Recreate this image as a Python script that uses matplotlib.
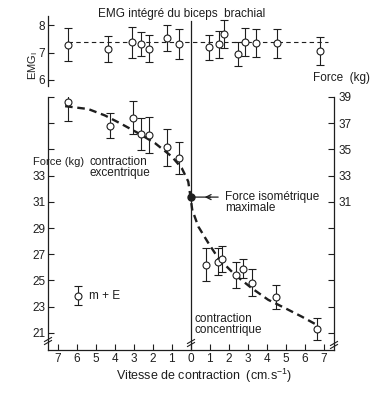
import matplotlib
matplotlib.use('Agg')
import matplotlib.pyplot as plt

plt.rcParams['font.family'] = ['Liberation Sans', 'DejaVu Sans']
plt.rcParams['mathtext.fontset'] = 'custom'
plt.rcParams['mathtext.rm'] = 'Liberation Sans'
plt.rcParams['mathtext.it'] = 'Liberation Sans:italic'

ink = '#1e1e1e'

# velocity: negative = eccentric side, positive = concentric side (cm/s)
# EMG integre (top panel)
emg_v = [-6.47, -4.33, -3.10, -2.60, -2.20, -1.23, -0.60,
         0.96, 1.50, 1.77, 2.49, 2.89, 3.42, 4.56, 6.80]
emg_m = [7.29, 7.13, 7.37, 7.31, 7.14, 7.52, 7.31,
         7.19, 7.30, 7.66, 6.96, 7.38, 7.34, 7.34, 7.05]
emg_e = [0.60, 0.47, 0.57, 0.42, 0.50, 0.48, 0.53,
         0.45, 0.49, 0.51, 0.44, 0.52, 0.50, 0.53, 0.50]
emg_mean = 7.37
emg_span = [-6.45, 7.25]

# force, eccentric contraction
ecc_v = [-6.47, -4.25, -3.05, -2.58, -2.16, -1.23, -0.62]
ecc_f = [38.61, 36.80, 37.43, 36.19, 36.09, 35.17, 34.36]
ecc_e = [1.45, 0.95, 1.25, 1.20, 1.35, 1.40, 1.20]

# isometric max force
iso_v = 0
iso_f = 31.36

# force, concentric contraction
con_v = [0.84, 1.46, 1.63, 2.40, 2.75, 3.26, 4.49, 6.67]
con_f = [26.19, 26.44, 26.65, 25.43, 25.91, 24.84, 23.71, 21.28]
con_e = [1.27, 1.00, 1.00, 0.97, 0.75, 1.00, 0.92, 0.86]

# fitted force-velocity curve
curve_v = [-6.6, -5.38, -4.5, -3.62, -2.75, -1.87, -0.99, -0.46, -0.12, 0,
           0.09, 0.41, 0.94, 1.46, 2.34, 3.22, 4.09, 4.97, 5.85, 6.64]
curve_f = [38.3, 38.08, 37.59, 36.93, 36.24, 35.48, 34.46, 33.57, 32.55, 31.36,
           30.39, 29.11, 27.85, 26.70, 25.43, 24.41, 23.52, 22.89, 22.24, 21.61]

# m + E key
key_v, key_f, key_e = -5.92, 23.82, 0.73

x_ticks = list(range(-7, 8))
x_labels = [str(abs(t)) for t in x_ticks]
f_ticks = list(range(21, 40, 2))
emg_ticks = [6, 7, 8]

W, H = 376, 401


def box(l, t, r, b):
    return [l / W, 1 - b / H, (r - l) / W, (b - t) / H]


def ft(x, y, s, **kw):
    kw.setdefault('va', 'center')
    kw.setdefault('fontsize', 8.5)
    fig.text(x / W, 1 - y / H, s, color=ink, **kw)


def brk(a, xf, yf):
    dx, dy, sep = 3.5 / 286, 2.0 / 253, 3.0 / 253
    for s in (-sep / 2, sep / 2):
        a.plot([xf - dx, xf + dx], [yf - dy + s, yf + dy + s], color=ink, lw=0.8,
               transform=a.transAxes, clip_on=False)


fig = plt.figure(figsize=(3.76, 4.01), dpi=100)

# force panel
ax = fig.add_axes(box(48, 97, 334, 350))
ax.set_xlim(-7.5, 7.55)
ax.set_ylim(19.69, 39)
ax.spines['top'].set_visible(False)
for s in ('left', 'right', 'bottom'):
    ax.spines[s].set_color(ink)
    ax.spines[s].set_linewidth(0.9)
ax.set_xticks(x_ticks)
ax.set_xticklabels(x_labels)
ax.set_yticks(f_ticks)
ax.set_yticklabels([str(t) if t <= 33 else '' for t in f_ticks])
ax.tick_params(direction='in', length=4, width=0.8, colors=ink, labelsize=8.5, pad=2)

ax_r = ax.twinx()
ax_r.set_ylim(ax.get_ylim())
for s in ax_r.spines.values():
    s.set_visible(False)
ax_r.set_yticks(f_ticks)
ax_r.set_yticklabels([str(t) if t >= 31 else '' for t in f_ticks])
ax_r.tick_params(direction='in', length=4, width=0.8, colors=ink, labelsize=8.5, pad=3)

ax.axvline(0, ymin=0, ymax=(350 - 21) / 253, color=ink, lw=0.9, clip_on=False)

ax.plot(curve_v, curve_f, ls=(0, (3.2, 2)), lw=1.7, color=ink, zorder=2)
eb = dict(fmt='o', mfc='white', mec=ink, ms=5, mew=0.8, ecolor=ink,
          elinewidth=0.8, capsize=3, capthick=0.8, zorder=3)
ax.errorbar(ecc_v, ecc_f, yerr=ecc_e, **eb)
ax.errorbar(con_v, con_f, yerr=con_e, **eb)
ax.errorbar([key_v], [key_f], yerr=[key_e], **eb)
ax.plot(iso_v, iso_f, 'o', color=ink, ms=5, zorder=4)

ax.annotate('', xy=(iso_v, iso_f), xytext=(1.6, iso_f),
            arrowprops=dict(arrowstyle='-', color=ink, lw=0.9))
ax.annotate('', xy=(0.6, iso_f), xytext=(1.2, iso_f),
            arrowprops=dict(arrowstyle='->', color=ink, lw=0.9, mutation_scale=9))

brk(ax, 0.0, (350 - 341) / 253)
brk(ax, 0.5, (350 - 343) / 253)
brk(ax, 1.0, (350 - 345) / 253)

# EMG panel
ax_e = fig.add_axes(box(48, 16, 334, 86))
ax_e.patch.set_alpha(0)
ax_e.set_xlim(ax.get_xlim())
ax_e.set_ylim(5.78, 8.33)
for s in ('top', 'right', 'bottom'):
    ax_e.spines[s].set_visible(False)
ax_e.spines['left'].set_color(ink)
ax_e.spines['left'].set_linewidth(0.9)
ax_e.set_xticks([])
ax_e.set_yticks(emg_ticks)
ax_e.tick_params(direction='in', length=4, width=0.8, colors=ink, labelsize=8.5, pad=2)
ax_e.plot(emg_span, [emg_mean, emg_mean], ls=(0, (4, 3)), lw=0.8, color=ink, zorder=2)
ax_e.errorbar(emg_v, emg_m, yerr=emg_e, **eb)

# texts
ft(182, 14, 'EMG intégré du biceps  brachial', ha='center')
ft(33, 66, 'EMG$_\\mathrm{I}$', rotation=90, ha='center', fontsize=8)
ft(313, 78, 'Force  (kg)', ha='left')
ft(33, 162, 'Force (kg)', ha='left', fontsize=8)
ft(89, 167.5, 'contraction\nexcentrique', ha='left', linespacing=0.95)
ft(225, 202.5, 'Force isométrique\nmaximale', ha='left', linespacing=0.95)
ft(195, 324.5, 'contraction\nconcentrique', ha='left', linespacing=0.95)
ft(89, 296, 'm + E', ha='left')
ft(116, 376, 'Vitesse de contraction  (cm.s$^{-1}$)', ha='left', fontsize=9)

fig.savefig('out.png', dpi=100)
